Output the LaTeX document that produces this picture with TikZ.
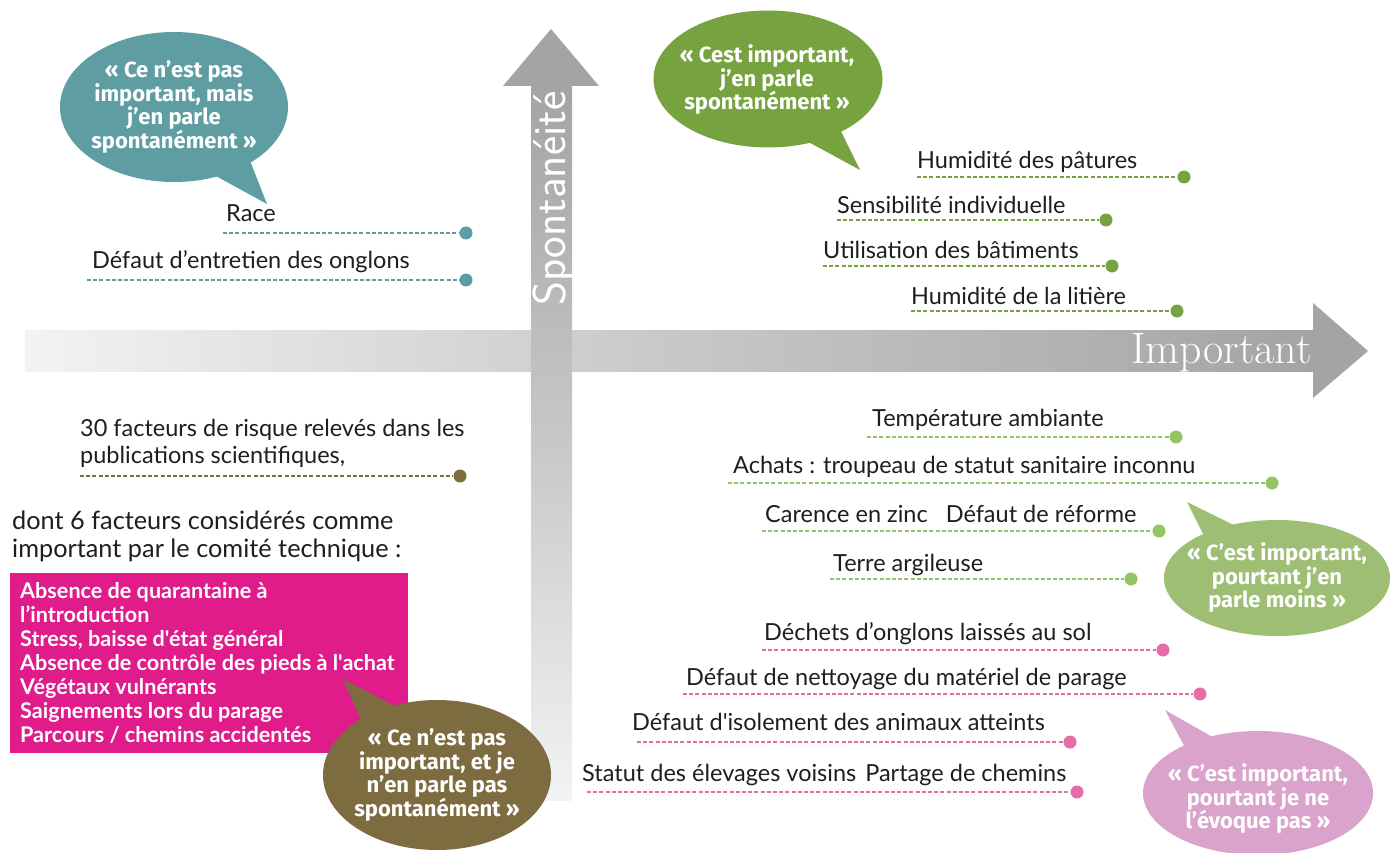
\documentclass[tikz,border=0pt]{standalone}
\usepackage{fontspec}
\newfontfamily\itemfont{Lato}
\newfontfamily\bubfont{Fira Sans}
\usetikzlibrary{shapes.geometric}
\definecolor{tealc}{HTML}{5E9DA2}
\definecolor{greenc}{HTML}{76A23F}
\definecolor{lgreenb}{HTML}{9DBE73}
\definecolor{lgreenc}{HTML}{93C663}
\definecolor{pinkc}{HTML}{E46CA8}
\definecolor{pinkb}{HTML}{D9A3CB}
\definecolor{magc}{HTML}{E01B8A}
\definecolor{brownc}{HTML}{7D6C3F}
\definecolor{axisg}{HTML}{A4A4A4}
\definecolor{axisl}{HTML}{F1F3F4}
\definecolor{axism}{HTML}{C6C8C9}
\definecolor{itemtxt}{HTML}{1E1E1E}
\begin{document}
\begin{tikzpicture}[x=1pt,y=-1pt,
  itm/.style={font=\itemfont\fontsize{23.5}{27}\selectfont, text=itemtxt, inner sep=0, anchor=base west},
  big/.style={font=\itemfont\fontsize{25.3}{29}\selectfont, text=itemtxt, inner sep=0, anchor=base west},
  boxt/.style={font=\itemfont\bfseries\fontsize{21.6}{24}\selectfont, text=white, inner sep=0, anchor=base west},
  dl/.style={line width=1.4pt, dash pattern=on 4pt off 2.2pt},
  pt/.style={circle, inner sep=0, minimum size=13},
  bubshape/.style={ellipse, inner sep=0},
  bubtext/.style={text=white, align=center, inner sep=0, font=\bubfont\bfseries\fontsize{22}{23.5}\selectfont},
]
\useasboundingbox (0,0) rectangle (1391,853);
\fill[white] (0,0) rectangle (1391,853);

% horizontal axis
\shade[left color=axisl, right color=axisg, middle color=axism] (25,330) rectangle (1314,371);
\fill[axisg] (1313,303) -- (1368,351) -- (1313,398) -- cycle;
\node[font=\rmfamily\fontsize{44}{44}\selectfont, text=white, inner sep=0, anchor=base east] (imp) at (1312,363) {Important};

% vertical axis
\shade[top color=axisg, bottom color=axisl, middle color=axism] (531,85) rectangle (572,800);
\fill[axisg] (503,86) -- (551,29) -- (599,86) -- cycle;
\node[font=\sffamily\fontsize{46}{46}\selectfont, text=white, inner sep=0, anchor=base west, rotate=90] (spo) at (565,306) {Spontanéité};

% bubble tails
\fill[tealc] (203,169) -- (267,204) -- (243,143) -- cycle;
\fill[greenc] (790,132) -- (860,170) -- (829,107) -- cycle;
\fill[lgreenb] (1214,556) -- (1187,502) -- (1256,536) -- cycle;
\fill[pinkb] (1196,768) -- (1165,710) -- (1230,747) -- cycle;

% magenta box
\node[fill=magc, minimum width=398, minimum height=180, inner sep=0, anchor=north west] (box) at (10,573) {};
\node[boxt] (m1) at (20,598) {Absence de quarantaine à};
\node[boxt] (m2) at (20,622) {l’introduction};
\node[boxt] (m3) at (20,646) {Stress, baisse d'état général};
\node[boxt] (m4) at (20,670) {Absence de contrôle des pieds à l'achat};
\node[boxt] (m5) at (20,694) {Végétaux vulnérants};
\node[boxt] (m6) at (20,718) {Saignements lors du parage};
\node[boxt] (m7) at (20,742) {Parcours / chemins accidentés};

\fill[brownc] (370,741) -- (343,679) -- (418,718) -- cycle;

% bubbles
\node[bubshape, fill=tealc, minimum width=228, minimum height=150] (b1) at (174,107) {};
\node[bubtext] (b1t) at (174,107) {« Ce n’est pas\\important, mais\\j’en parle\\spontanément »};
\node[bubshape, fill=greenc, minimum width=229, minimum height=137] (b2) at (768,79) {};
\node[bubtext] (b2t) at (767,80) {« Cest important,\\j’en parle\\spontanément »};
\node[bubshape, fill=lgreenb, minimum width=226, minimum height=116] (b3) at (1277,578) {};
\node[bubtext] (b3t) at (1277,578) {« C’est important,\\pourtant j’en\\parle moins »};
\node[bubshape, fill=pinkb, minimum width=230, minimum height=124] (b4) at (1258,793) {};
\node[bubtext] (b4t) at (1258,799) {« C’est important,\\pourtant je ne\\l’évoque pas »};
\node[bubshape, fill=brownc, minimum width=228, minimum height=150] (b5) at (437,775) {};
\node[bubtext] (b5t) at (437,775) {« Ce n’est pas\\important, et je\\n’en parle pas\\spontanément »};

% teal items
\node[itm] (t1) at (226,222) {Race};
\node[pt, fill=tealc] (t1d) at (466,233) {};
\coordinate (t1s) at (223,233);
\draw[dl, tealc] (t1s) -- (t1d);
\node[itm] (t2) at (92,268) {Défaut d’entretien des onglons};
\node[pt, fill=tealc] (t2d) at (466,280) {};
\coordinate (t2s) at (87,280);
\draw[dl, tealc] (t2s) -- (t2d);

% dark green items
\node[itm] (g1) at (917,168) {Humidité des pâtures};
\node[pt, fill=greenc] (g1d) at (1184,177) {};
\coordinate (g1s) at (917,177);
\draw[dl, greenc] (g1s) -- (g1d);
\node[itm] (g2) at (837,213) {Sensibilité individuelle};
\node[pt, fill=greenc] (g2d) at (1106,220) {};
\coordinate (g2s) at (837,220);
\draw[dl, greenc] (g2s) -- (g2d);
\node[itm] (g3) at (823,258) {Utilisation des bâtiments};
\node[pt, fill=greenc] (g3d) at (1112,266) {};
\coordinate (g3s) at (823,266);
\draw[dl, greenc] (g3s) -- (g3d);
\node[itm] (g4) at (911,304) {Humidité de la litière};
\node[pt, fill=greenc] (g4d) at (1177,311) {};
\coordinate (g4s) at (911,311);
\draw[dl, greenc] (g4s) -- (g4d);

% light green items
\node[itm] (l1) at (872,426) {Température ambiante};
\node[pt, fill=lgreenc] (l1d) at (1176,437) {};
\coordinate (l1s) at (867,437);
\draw[dl, lgreenc] (l1s) -- (l1d);
\node[itm] (l2) at (733,473) {Achats : troupeau de statut sanitaire inconnu};
\node[pt, fill=lgreenc] (l2d) at (1272,483) {};
\coordinate (l2s) at (728,483);
\draw[dl, lgreenc] (l2s) -- (l2d);
\node[itm] (l3) at (765,522) {Carence en zinc\hspace{18pt}Défaut de réforme};
\node[pt, fill=lgreenc] (l3d) at (1159,531) {};
\coordinate (l3s) at (762,531);
\draw[dl, lgreenc] (l3s) -- (l3d);
\node[itm] (l4) at (833,571) {Terre argileuse};
\node[pt, fill=lgreenc] (l4d) at (1131,579) {};
\coordinate (l4s) at (830,579);
\draw[dl, lgreenc] (l4s) -- (l4d);

% pink items
\node[itm] (p1) at (764,640) {Déchets d’onglons laissés au sol};
\node[pt, fill=pinkc] (p1d) at (1163,650) {};
\coordinate (p1s) at (762,650);
\draw[dl, pinkc] (p1s) -- (p1d);
\node[itm] (p2) at (686,685) {Défaut de nettoyage du matériel de parage};
\node[pt, fill=pinkc] (p2d) at (1200,694) {};
\coordinate (p2s) at (683,694);
\draw[dl, pinkc] (p2s) -- (p2d);
\node[itm] (p3) at (632,730) {Défaut d'isolement des animaux atteints};
\node[pt, fill=pinkc] (p3d) at (1070,742) {};
\coordinate (p3s) at (637,742);
\draw[dl, pinkc] (p3s) -- (p3d);
\node[itm] (p4) at (582,781) {Statut des élevages voisins\hspace{9pt}Partage de chemins};
\node[pt, fill=pinkc] (p4d) at (1077,792) {};
\coordinate (p4s) at (587,792);
\draw[dl, pinkc] (p4s) -- (p4d);

% brown item
\node[itm] (r1) at (80,436) {30 facteurs de risque relevés dans les};
\node[itm] (r2) at (80,463) {publications scientifiques,};
\node[pt, fill=brownc] (r1d) at (460,476) {};
\coordinate (r1s) at (80,476);
\draw[dl, brownc] (r1s) -- (r1d);

\node[big] (k1) at (12,529) {dont 6 facteurs considérés comme};
\node[big] (k2) at (12,557) {important par le comité technique :};
\end{tikzpicture}
\end{document}
